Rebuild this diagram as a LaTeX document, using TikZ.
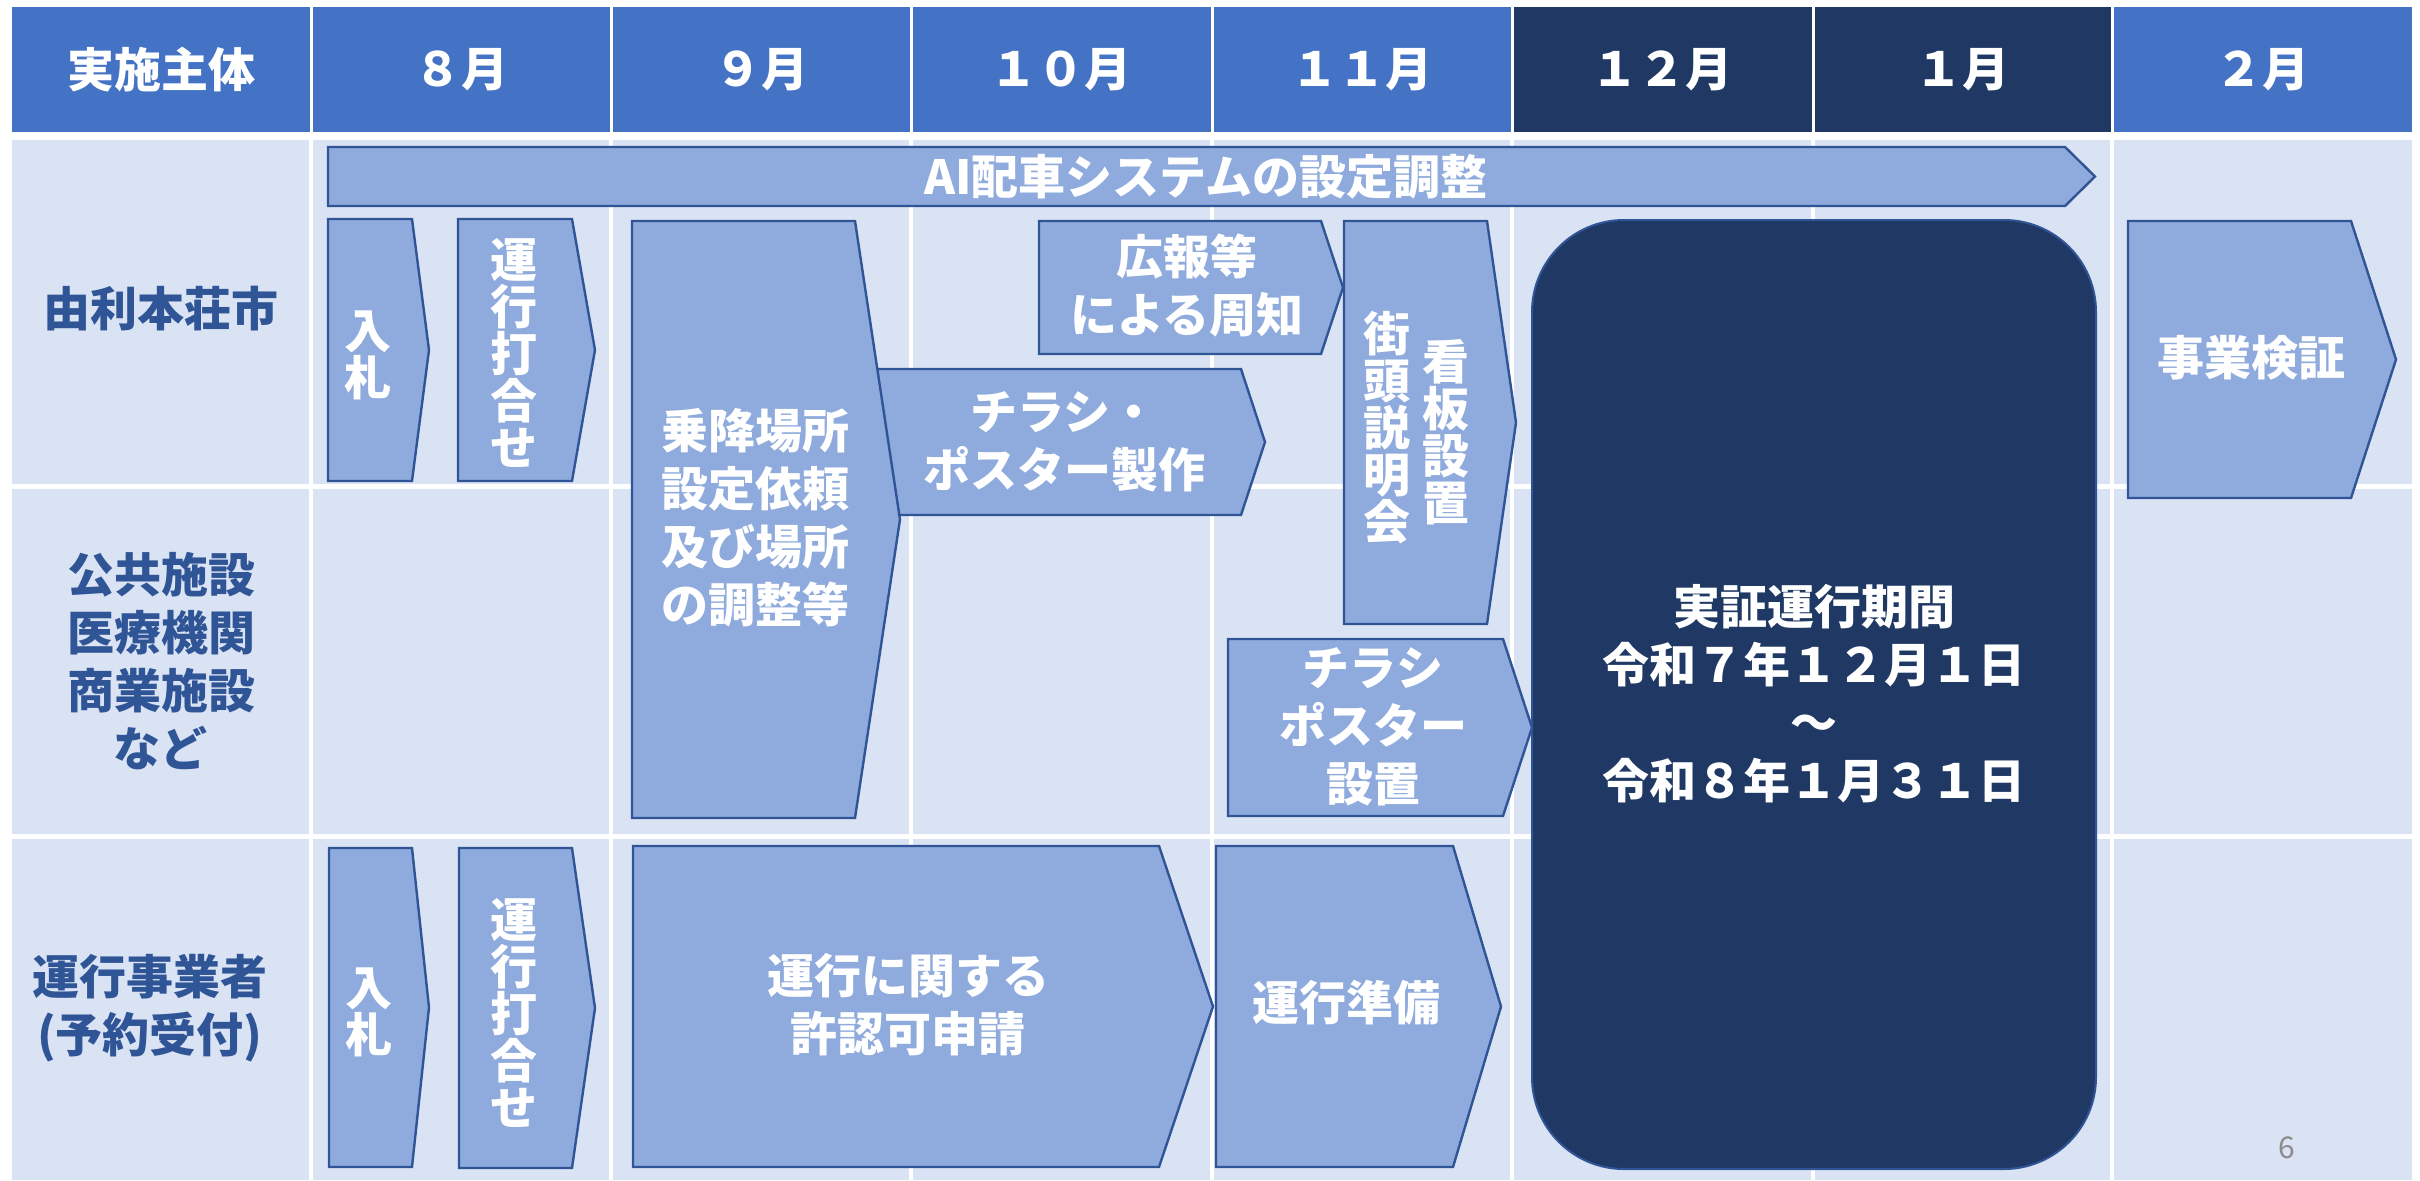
\documentclass[tikz,border=0pt]{standalone}
\usepackage{fontspec}
\newfontfamily\jp{Noto Sans CJK JP}
\definecolor{hdr}{HTML}{4472C4}
\definecolor{hdrdark}{HTML}{203864}
\definecolor{cell}{HTML}{DAE3F3}
\definecolor{boxfill}{HTML}{8FAADC}
\definecolor{boxline}{HTML}{2F5597}
\definecolor{labeltext}{HTML}{2F5597}
\definecolor{pagenum}{HTML}{8C8C8C}
\newcommand\hplate[5]{\path[bar] (#1,#2) -- (#3,#2) -- (#5,{(#2+#4)/2}) -- (#3,#4) -- (#1,#4) -- cycle;}
\begin{document}
\begin{tikzpicture}[x=0.5pt,y=-0.5pt,
  bar/.style={fill=boxfill, draw=boxline, line width=1.2pt, line join=miter},
  txt/.style={text=white, font=\jp\bfseries\fontsize{23.5pt}{29pt}\selectfont, align=center, inner sep=0pt,
    execute at begin node=\vphantom{国}, execute at end node=\vphantom{国}},
  vtxt/.style={text=white, font={\jp\bfseries\fontsize{23.5pt}{23.5pt}\selectfont\lineskiplimit=-20pt}, align=center, inner sep=0pt},
  lbl/.style={text=labeltext, font=\jp\bfseries\fontsize{23.5pt}{29pt}\selectfont, align=center, inner sep=0pt},
  hd/.style={text=white, font=\jp\bfseries\fontsize{23.5pt}{29pt}\selectfont, inner sep=0pt}
]
\useasboundingbox (0,0) rectangle (2420,1180);
\fill[white] (0,0) rectangle (2420,1180);
% body background and grid
\fill[cell] (12,140) rectangle (2412,1180);
\foreach \x in {311,611,911,1212,1512,1813,2112}
  \draw[white, line width=2pt] (\x,140) -- (\x,1180);
\draw[white, line width=2.5pt] (12,486) -- (2412,486);
\draw[white, line width=2.5pt] (12,836) -- (2412,836);
% header
\fill[hdr] (12,7) rectangle (1512,132);
\fill[hdrdark] (1512,7) rectangle (2112,132);
\fill[hdr] (2112,7) rectangle (2412,132);
\foreach \x in {311,611,911,1212,1512,1813,2112}
  \draw[white, line width=1.5pt] (\x,7) -- (\x,132);
\node[hd] (h0) at (161,70) {実施主体};
\node[hd] (h1) at (461,70) {８月};
\node[hd] (h2) at (761,70) {９月};
\node[hd] (h3) at (1061,70) {１０月};
\node[hd] (h4) at (1362,70) {１１月};
\node[hd] (h5) at (1662,70) {１２月};
\node[hd] (h6) at (1962,70) {１月};
\node[hd] (h7) at (2262,70) {２月};
% row labels
\node[lbl] (r1) at (161,309) {由利本荘市};
\node[lbl] (r2) at (161,661) {公共施設\\医療機関\\商業施設\\など};
\node[lbl] (r3) at (150,1008) {運行事業者\\(予約受付)};
% bars
\hplate{328}{147}{2065}{206}{2095}
\node[txt] (ai) at (1206,177) {AI配車システムの設定調整};
\hplate{328}{219}{412}{481}{429}
\node[vtxt] (nyu1) at (368,355) {入\\札};
\hplate{458}{219}{572}{481}{595}
\node[vtxt] (uchi1) at (514,353) {運\\行\\打\\合\\せ};
\hplate{860}{369}{1241}{515}{1265}
\node[txt] (chirashi1) at (1064,442) {チラシ・\\ポスター製作};
\hplate{632}{221}{855}{818}{900}
\node[txt] (jouko) at (755,518) {乗降場所\\設定依頼\\及び場所\\の調整等};
\hplate{1039}{221}{1321}{354}{1343}
\node[txt] (kouhou) at (1187,285) {広報等\\による周知};
\hplate{1344}{221}{1487}{624}{1516}
\node[vtxt] (kanban) at (1446,432) {看\\板\\設\\置};
\node[vtxt] (gaitou) at (1387,428) {街\\頭\\説\\明\\会};
\hplate{1228}{639}{1503}{816}{1532}
\node[txt] (chirashi2) at (1373,727) {チラシ\\ポスター\\設置};
\path[fill=hdrdark, draw=boxline, line width=1pt, rounded corners=46pt] (1532,220) rectangle (2096,1169);
\node[txt] (jisshou) at (1814,694) {実証運行期間\\令和７年１２月１日\\～\\令和８年１月３１日};
\hplate{2128}{221}{2351}{498}{2396}
\node[txt] (kenshou) at (2251,358) {事業検証};
\hplate{329}{848}{412}{1167}{429}
\node[vtxt] (nyu2) at (369,1012) {入\\札};
\hplate{459}{848}{572}{1168}{595}
\node[vtxt] (uchi2) at (514,1013) {運\\行\\打\\合\\せ};
\hplate{633}{846}{1159}{1167}{1213}
\node[txt] (kyoninka) at (908,1005) {運行に関する\\許認可申請};
\hplate{1216}{846}{1453}{1167}{1501}
\node[txt] (junbi) at (1346,1003) {運行準備};
\node[text=pagenum, font=\jp\fontsize{15pt}{18pt}\selectfont, inner sep=0pt] (page) at (2287,1148) {6};
\end{tikzpicture}
\end{document}
